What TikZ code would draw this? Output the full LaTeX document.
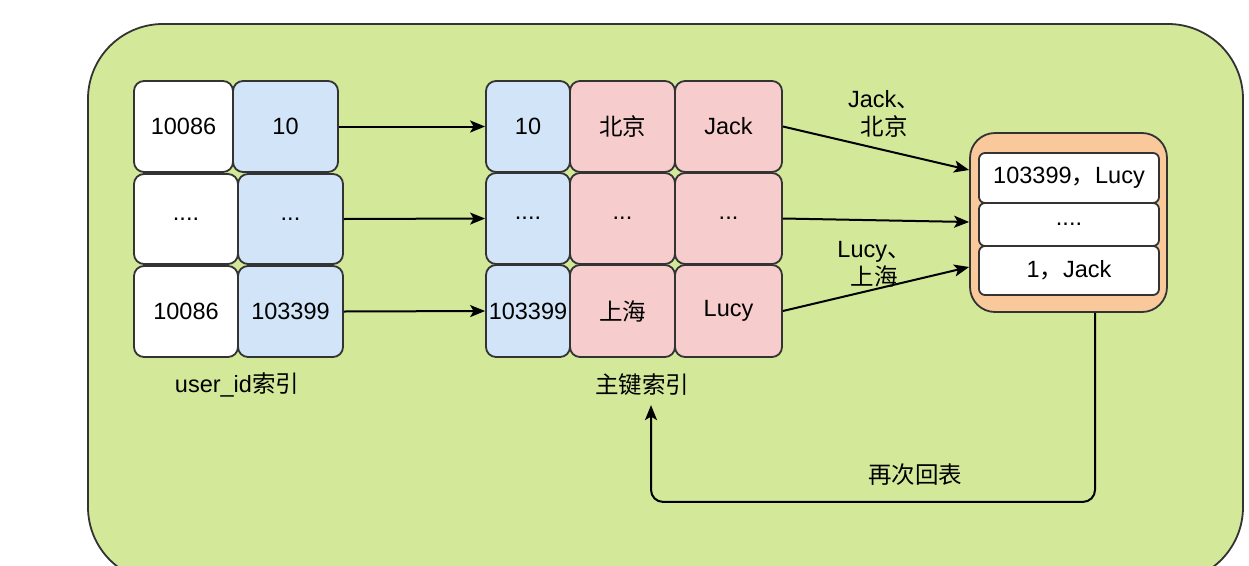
\documentclass[tikz,border=0pt]{standalone}
\usepackage{fontspec}
\setmainfont{Liberation Sans}
\newfontfamily\cjk{Noto Sans CJK SC}
\usetikzlibrary{arrows.meta}
\definecolor{bggreen}{HTML}{D3E899}
\definecolor{cellblue}{HTML}{D2E4F8}
\definecolor{cellpink}{HTML}{F6CDCC}
\definecolor{cellorange}{HTML}{F9C99B}
\definecolor{edgegray}{HTML}{333333}
\tikzset{
  cell/.style={draw=edgegray, line width=1.8pt, rounded corners=10pt, inner sep=0pt, text=black},
  wcell/.style={cell, fill=white},
  bcell/.style={cell, fill=cellblue},
  pcell/.style={cell, fill=cellpink},
  icell/.style={cell, fill=white, rounded corners=6pt, minimum width=180pt},
  arr/.style={-{Stealth[length=15pt,width=12pt,inset=3.5pt]}, line width=2pt, draw=black},
  lbl/.style={inner sep=2pt, align=center},
  container/.style={draw=edgegray, line width=1.8pt, fill=bggreen, rounded corners=75pt, inner sep=0pt}
}
\begin{document}
\begin{tikzpicture}[x=1pt, y=-1pt, font=\fontsize{23.5}{28}\selectfont]
\useasboundingbox (0,0) rectangle (1249,565);
\fill[white] (0,0) rectangle (1249,565);
\node[container, minimum width=1155pt, minimum height=558pt] (bg) at (665.5,303) {};

% user_id index
\node[wcell, minimum width=99pt, minimum height=91pt] (w1) at (183.5,126.5) {10086};
\node[bcell, minimum width=105pt, minimum height=91pt] (b1) at (285.5,126.5) {10};
\node[wcell, minimum width=104pt, minimum height=90pt] (w2) at (186,219) {....};
\node[bcell, minimum width=105pt, minimum height=90pt] (b2) at (290.5,219) {...};
\node[wcell, minimum width=104pt, minimum height=91pt] (w3) at (186,311.5) {10086};
\node[bcell, minimum width=105pt, minimum height=91pt] (b3) at (290.5,311.5) {103399};
\node[lbl] (uid) at (237,385) {user\_id{\cjk 索引}};

% primary key index
\node[bcell, minimum width=84pt, minimum height=91pt] (m1) at (528,126.5) {10};
\node[pcell, minimum width=105pt, minimum height=91pt] (p1) at (622.5,126.5) {\cjk 北京};
\node[pcell, minimum width=107pt, minimum height=91pt] (q1) at (728.5,126.5) {Jack};
\node[bcell, minimum width=84pt, minimum height=91pt] (m2) at (528,218.5) {....};
\node[pcell, minimum width=105pt, minimum height=91pt] (p2) at (622.5,218.5) {...};
\node[pcell, minimum width=107pt, minimum height=91pt] (q2) at (728.5,218.5) {...};
\node[bcell, minimum width=84pt, minimum height=92pt] (m3) at (528,311) {103399};
\node[pcell, minimum width=105pt, minimum height=92pt] (p3) at (622.5,311) {\cjk 上海};
\node[pcell, minimum width=107pt, minimum height=92pt] (q3) at (728.5,311) {Lucy};
\node[lbl] (pk) at (642,385) {\cjk 主键索引};

% result box
\node[cell, fill=cellorange, rounded corners=25pt, minimum width=197pt, minimum height=179pt] (o) at (1068.5,222.5) {};
\node[icell, minimum height=50pt] (r1) at (1069,178) {103399{\cjk ，}Lucy};
\node[icell, minimum height=43pt] (r2) at (1069,224.5) {....};
\node[icell, minimum height=49pt] (r3) at (1069,270.5) {1{\cjk ，}Jack};

% arrows
\draw[arr] (b1.east) -- (m1.west);
\draw[arr] (b2.east) -- (m2.west);
\draw[arr] (b3.east) -- (m3.west);
\draw[arr] (q1.east) -- ([yshift=52.5pt]o.west);
\draw[arr] (q2.east) -- ([yshift=0.5pt]o.west);
\draw[arr] (q3.east) -- ([yshift=-44.5pt]o.west);
\node[lbl] (l1) at (884,114) {Jack{\cjk 、}\\{\cjk 北京}};
\node[lbl] (l2) at (874,264) {Lucy{\cjk 、}\\{\cjk 上海}};

\draw[arr, rounded corners=12pt] ([xshift=26.5pt]o.south) -- ++(0,189) -| ([xshift=9pt,yshift=-7pt]pk.south);
\node[lbl] (back) at (915,475) {\cjk 再次回表};
\end{tikzpicture}
\end{document}
